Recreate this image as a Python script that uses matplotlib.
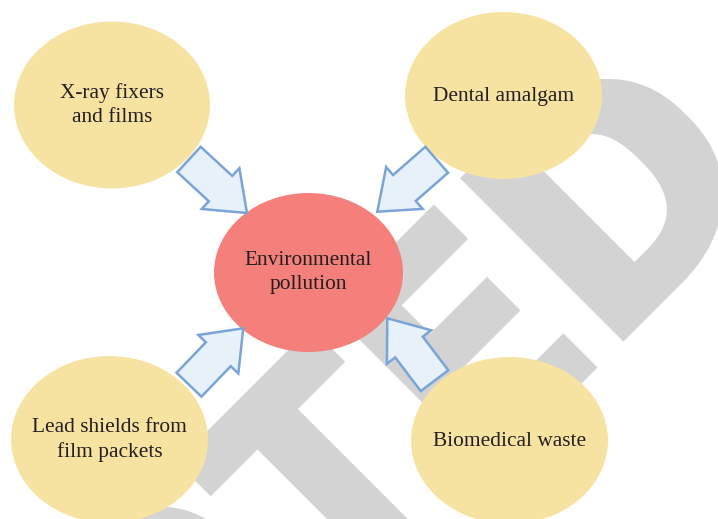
import numpy as np
import matplotlib
matplotlib.use("Agg")
import matplotlib.pyplot as plt
from matplotlib.patches import Ellipse, FancyArrow, PathPatch
from matplotlib.textpath import TextPath
from matplotlib.font_manager import FontProperties
from matplotlib.path import Path

# nodes (pixel coords of the 718x519 picture)
node_labels = ["X-ray fixers\nand films", "Dental amalgam", "Environmental\npollution",
               "Lead shields from\nfilm packets", "Biomedical waste"]
node_x = [112, 503.5, 308.5, 109.5, 509.5]
node_y = [105, 95.5, 272.5, 439.5, 440.5]
node_w = [196, 197, 189, 197, 197]
node_h = [167, 167, 159, 167, 167]
node_text_y = [105, 96.5, 272.5, 440, 442]
node_colors = ["#f7e3a1", "#f7e3a1", "#f47f7b", "#f7e3a1", "#f7e3a1"]

# block arrows: tail centre -> tip
arrow_tail_x = [189, 436.7, 189, 434.5]
arrow_tail_y = [159.5, 159.8, 384.7, 380.7]
arrow_tip_x = [247, 377.3, 243.3, 387.3]
arrow_tip_y = [213, 211.7, 328.3, 318.3]

# watermark
wm_word = "RETRACTED"
wm_base = 965      # x + y of baseline
wm_cap = 231       # cap height, px
wm_e_left = 14     # letter-x of the last E's stem
wm_bold = 6        # extra stroke per side, px
wm_track = 12      # extra spacing per letter, px
wm_d_stretch = 1.15
wm_e_squeeze = 0.93

fig = plt.figure(figsize=(7.18, 5.19), dpi=100)
ax = fig.add_axes([0, 0, 1, 1])
ax.set_xlim(0, 718)
ax.set_ylim(519, 0)
ax.set_aspect("equal")
ax.axis("off")

# --- watermark text as a rotated path
fp = FontProperties(family="Roboto", weight="bold")
full = TextPath((0, 0), wm_word, size=100, prop=fp)
v = full.vertices
codes = full.codes
ok = codes != Path.CLOSEPOLY
plen = [0] + [len(TextPath((0, 0), wm_word[:i], size=100, prop=fp).vertices)
              for i in range(1, len(wm_word) + 1)]
gi = np.searchsorted(np.array(plen[1:]), np.arange(len(v)), side="right")
seg = (gi == 7) & ok
e_left = v[seg, 0].min()
cap = v[seg, 1].max()
k = (wm_cap - 2 * wm_bold) / cap
s = (v[:, 0] - e_left) * k + wm_e_left + wm_bold + wm_track * (gi - 7)
t = v[:, 1] * k + wm_bold
emask = gi == 7
s[emask] = s[seg].min() + (s[emask] - s[seg].min()) * wm_e_squeeze
dmask = gi == 8
d_left = s[dmask & ok].min()
s[dmask] = d_left + (s[dmask] - d_left) * wm_d_stretch
r2 = np.sqrt(2)
xx = (wm_base + s * r2 - t * r2) / 2
yy = (wm_base - s * r2 - t * r2) / 2
wm = Path(np.column_stack([xx, yy]), codes)
ax.add_patch(PathPatch(wm, fc="#d3d3d3", ec="#d3d3d3", lw=2 * wm_bold * 0.72,
                       joinstyle="miter", zorder=0))

# --- ellipses
for i in range(len(node_labels)):
    ax.add_patch(Ellipse((node_x[i], node_y[i]), node_w[i], node_h[i],
                         fc=node_colors[i], ec="none", zorder=1))
    ax.text(node_x[i], node_text_y[i], node_labels[i], ha="center", va="center",
            fontsize=15.4, family="Liberation Serif", color="#231f20",
            linespacing=1.36, zorder=3)

# --- arrows
for i in range(len(arrow_tail_x)):
    dx = arrow_tip_x[i] - arrow_tail_x[i]
    dy = arrow_tip_y[i] - arrow_tail_y[i]
    ax.add_patch(FancyArrow(arrow_tail_x[i], arrow_tail_y[i], dx, dy,
                            width=34.5, head_width=55.5, head_length=36,
                            length_includes_head=True, fc="#e6f1f9",
                            ec="#7ba4d6", lw=1.8, joinstyle="miter", zorder=2))

fig.savefig("out.png", dpi=100)
